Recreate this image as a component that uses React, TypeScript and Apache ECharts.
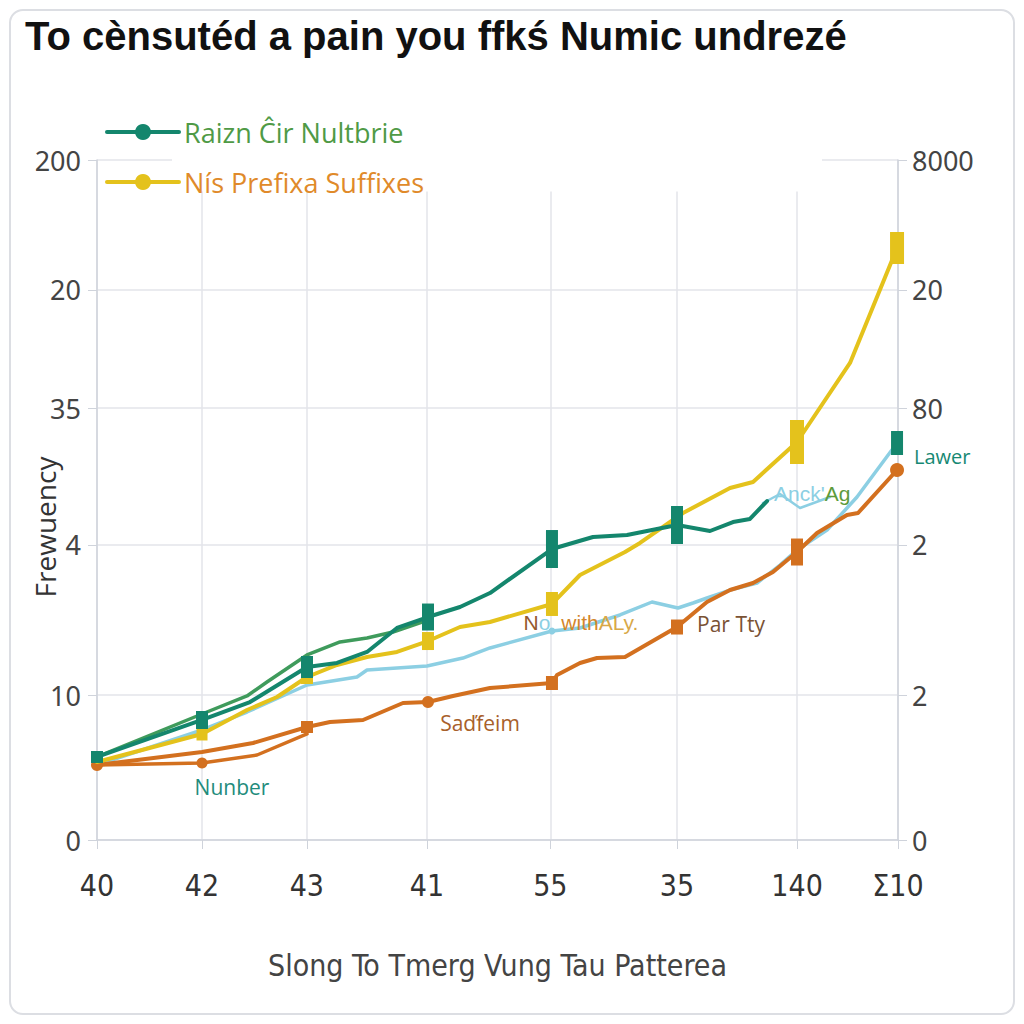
import React, { useEffect, useRef } from "react";
import * as echarts from "echarts";

// ---- tick layout (axis units) and tick labels ----
const xTickPos = [0, 13.1, 26.2, 41.2, 56.6, 72.4, 87.4, 100];
const xTickLabels = ["40", "42", "43", "41", "55", "35", "140", "Σ10"];
const yTickPos = [0, 21.3, 43.4, 63.5, 80.9, 100];
const yLeftLabels = ["0", "10", "4", "35", "20", "200"];
const yRightLabels = ["0", "2", "2", "80", "20", "8000"];

// ---- series values [x, y] in axis units ----
const tealValues = [
  [0, 12.21], [13.11, 17.65], [19.1, 20.29], [26.22, 25.44], [29.96, 26.03], [33.71, 27.65],
  [37.45, 31.18], [41.32, 32.79], [45.32, 34.26], [49.06, 36.32], [56.8, 42.79], [61.92, 44.56],
  [66.17, 44.85], [72.41, 46.32], [76.53, 45.44], [79.4, 46.76], [81.52, 47.21], [83.65, 49.85],
];
const yellowValues = [
  [0, 11.47], [13.11, 15.59], [18.73, 19.12], [22.47, 21.03], [26.22, 23.97], [29.96, 25.74],
  [33.71, 26.91], [37.45, 27.65], [41.32, 29.26], [45.32, 31.32], [49.06, 32.06], [56.8, 34.71],
  [60.3, 38.97], [65.92, 42.35], [67.79, 43.68], [73.16, 48.09], [79.03, 51.76], [81.9, 52.65],
  [87.39, 58.53], [94.01, 70.15], [99.88, 87.06],
];
const greenValues = [
  [0, 12.21], [13.11, 18.53], [18.73, 21.18], [21.22, 23.24], [26.22, 27.21], [30.34, 29.12],
  [33.71, 29.71], [36.95, 30.59], [41.32, 32.35],
];
const blueValues = [
  [0, 11.03], [13.11, 16.18], [18.73, 18.82], [26.22, 22.79], [32.46, 23.97], [33.71, 25.0],
  [41.2, 25.59], [45.69, 26.76], [49.06, 28.24], [56.8, 30.74], [60.3, 31.18], [65.29, 33.09],
  [69.29, 35.0], [72.53, 34.12], [74.41, 34.85], [76.15, 35.59], [79.03, 36.76], [82.4, 37.79],
  [85.27, 40.44], [87.39, 42.65], [91.14, 45.59], [94.88, 50.44], [99.88, 58.38],
];
const blueWaveValues = [[83.14, 49.56], [85.27, 50.88], [87.77, 48.82], [91.51, 50.44]];
const orangeValues = [
  [0, 11.03], [13.11, 12.94], [19.48, 14.26], [26.22, 16.62], [29.09, 17.35], [33.21, 17.65],
  [38.2, 20.15], [41.32, 20.29], [44.44, 21.18], [49.06, 22.35], [56.8, 23.09], [57.43, 24.26],
  [60.3, 26.03], [62.42, 26.76], [65.92, 26.91], [72.41, 31.32], [76.15, 35.0], [79.03, 36.76],
  [81.9, 37.79], [84.39, 39.41], [87.39, 42.35], [89.89, 45.15], [93.63, 47.79], [95.01, 48.09],
  [99.88, 54.41],
];
const orangeLowValues = [[0, 11.03], [13.11, 11.32], [19.98, 12.5], [26.22, 15.59]];

const seriesNames = ["Raizn Ĉir Nultbrie", "Nís Prefixa Suffixes"];

// ---- styles ----
const C = {
  teal: "#14866d",
  yellow: "#e4c21c",
  green: "#3f9b5c",
  blue: "#8ccfe3",
  orange: "#d3701f",
};

type Mark = { symbol: string; size: number | number[]; color?: string };
const tealMarks: Record<number, Mark> = {
  0: { symbol: "rect", size: [12, 12] },
  1: { symbol: "rect", size: [12, 18] },
  3: { symbol: "rect", size: [12, 22] },
  7: { symbol: "rect", size: [12, 27] },
  10: { symbol: "rect", size: [12, 38] },
  13: { symbol: "rect", size: [12, 38] },
};
const yellowMarks: Record<number, Mark> = {
  1: { symbol: "rect", size: [11, 13] },
  4: { symbol: "rect", size: [12, 14] },
  8: { symbol: "rect", size: [12, 18] },
  11: { symbol: "rect", size: [12, 24] },
  18: { symbol: "rect", size: [14, 44] },
  20: { symbol: "rect", size: [14, 32] },
};
const blueMarks: Record<number, Mark> = {
  9: { symbol: "circle", size: 7 },
  22: { symbol: "rect", size: [12, 24], color: C.teal },
};
const orangeMarks: Record<number, Mark> = {
  0: { symbol: "circle", size: 12 },
  3: { symbol: "rect", size: [12, 12] },
  7: { symbol: "circle", size: 12 },
  10: { symbol: "rect", size: [12, 14] },
  15: { symbol: "rect", size: [12, 15] },
  20: { symbol: "rect", size: [12, 27] },
  24: { symbol: "circle", size: 14 },
};
const orangeLowMarks: Record<number, Mark> = { 1: { symbol: "circle", size: 11 } };

function build(values: number[][], marks: Record<number, Mark>) {
  return values.map((v, i) => {
    const m = marks[i];
    if (!m) return { value: v, symbol: "none" };
    return {
      value: v,
      symbol: m.symbol,
      symbolSize: m.size,
      itemStyle: m.color ? { color: m.color } : undefined,
    };
  });
}

function lineSeries(name: string, values: number[][], marks: Record<number, Mark>, color: string, width: number, z: number) {
  return {
    name,
    type: "line",
    data: build(values, marks),
    symbol: "circle",
    showSymbol: true,
    color,
    lineStyle: { color, width, cap: "round", join: "round" },
    itemStyle: { color },
    z,
    silent: true,
  };
}

const pick = (pos: number[], labels: string[]) => (v: number) => {
  let best = 0;
  for (let i = 0; i < pos.length; i++) if (Math.abs(pos[i] - v) < Math.abs(pos[best] - v)) best = i;
  return labels[best];
};

const gridColor = "#e3e5ea";
const axisColor = "#cfd3db";
const narrow = "'Liberation Sans Narrow', 'DejaVu Sans Condensed', sans-serif";
const sans = "'Open Sans', 'Noto Sans', sans-serif";

export default function App() {
  const ref = useRef<HTMLDivElement>(null);
  useEffect(() => {
    if (!ref.current) return;
    const chart = echarts.init(ref.current, undefined, { renderer: "svg" });
    chart.setOption({
      animation: false,
      title: {
        text: "To cènsutéd a pain you ffkś Numic undrezé",
        left: 20,
        top: 11,
        textStyle: { fontSize: 40, fontWeight: "bold", color: "#111", fontFamily: "'Liberation Sans', Arial, sans-serif" },
      },
      legend: {
        orient: "vertical",
        left: 100,
        top: 112,
        itemWidth: 72,
        itemHeight: 20,
        itemGap: 20,
        lineStyle: { width: 4 },
        data: [
          { name: seriesNames[0], textStyle: { color: "#4f9a46" } },
          { name: seriesNames[1], textStyle: { color: "#e08a2a" } },
        ],
        textStyle: { fontSize: 27, lineHeight: 30, fontFamily: sans },
      },
      grid: { left: 97, right: 126, top: 160, bottom: 184, containLabel: false, outerBoundsMode: "none" },
      xAxis: {
        type: "value",
        min: 0,
        max: 100,
        name: "Slong To Tmerg Vung Tau Patterea",
        nameLocation: "middle",
        nameGap: 110,
        nameTextStyle: { fontSize: 30, color: "#444", fontFamily: narrow },
        axisLine: { show: true, lineStyle: { color: axisColor, width: 1.5 } },
        axisTick: { show: true, length: 9, customValues: xTickPos, lineStyle: { color: axisColor } },
        axisLabel: {
          customValues: xTickPos,
          formatter: pick(xTickPos, xTickLabels),
          fontSize: 30,
          color: "#333",
          margin: 30,
          fontFamily: narrow,
        },
        splitLine: { show: true, lineStyle: { color: gridColor, width: 1.5 } },
      },
      yAxis: [
        {
          type: "value",
          min: 0,
          max: 100,
          position: "left",
          axisLine: { show: true, lineStyle: { color: axisColor, width: 1.5 } },
          axisTick: { show: true, length: 9, customValues: yTickPos, lineStyle: { color: axisColor } },
          axisLabel: {
            customValues: yTickPos,
            formatter: pick(yTickPos, yLeftLabels),
            fontSize: 27,
            color: "#444",
            margin: 16,
            fontFamily: "'Noto Sans', 'Open Sans', sans-serif",
          },
          splitLine: { show: true, lineStyle: { color: gridColor, width: 1.5 } },
        },
        {
          type: "value",
          min: 0,
          max: 100,
          position: "right",
          axisLine: { show: true, lineStyle: { color: axisColor, width: 1.5 } },
          axisTick: { show: true, length: 9, customValues: yTickPos, lineStyle: { color: axisColor } },
          axisLabel: {
            customValues: yTickPos,
            formatter: pick(yTickPos, yRightLabels),
            fontSize: 27,
            color: "#444",
            margin: 14,
            fontFamily: "'Noto Sans', 'Open Sans', sans-serif",
          },
          splitLine: { show: false },
        },
      ],
      series: [
        lineSeries("blue", blueValues, blueMarks, C.blue, 3.5, 2),
        lineSeries("blueWave", blueWaveValues, {}, C.blue, 2.5, 2),
        lineSeries("green", greenValues, {}, C.green, 3.5, 3),
        lineSeries("orangeLow", orangeLowValues, orangeLowMarks, C.orange, 3.5, 3),
        lineSeries("orange", orangeValues, orangeMarks, C.orange, 4, 4),
        lineSeries(seriesNames[1], yellowValues, yellowMarks, C.yellow, 4, 5),
        lineSeries(seriesNames[0], tealValues, tealMarks, C.teal, 4, 6),
      ],
      graphic: [
        { type: "rect", z: 1, silent: true, shape: { x: 99, y: 161.5, width: 797, height: 30 }, style: { fill: "#fff" } },
        { type: "rect", z: 1, silent: true, shape: { x: 172, y: 157, width: 650, height: 6 }, style: { fill: "#fff" } },
        { type: "text", z: 50, x: 45, y: 527, rotation: Math.PI / 2, style: { text: "Frewuency", fill: "#333", fontSize: 28, align: "center", verticalAlign: "middle", fontFamily: sans } },
        { type: "text", z: 50, x: 232, y: 787, style: { text: "Nunber", fill: "#1f8c7c", fontSize: 21, align: "center", verticalAlign: "middle", fontFamily: sans } },
        { type: "text", z: 50, x: 480, y: 723, style: { text: "Saďfeim", fill: "#a8602b", fontSize: 21, align: "center", verticalAlign: "middle", fontFamily: sans } },
        {
          type: "text", z: 50, x: 581, y: 622,
          style: {
            text: "{n|N}{o|o}  {w|with}{a|ALy.}",
            align: "center", verticalAlign: "middle", fontSize: 21, fontFamily: sans,
            rich: {
              n: { fill: "#96592c", fontSize: 21 },
              o: { fill: C.blue, fontSize: 21 },
              w: { fill: "#d3862b", fontSize: 21 },
              a: { fill: "#d8a848", fontSize: 21 },
            },
          },
        },
        { type: "text", z: 50, x: 731, y: 624, style: { text: "Par Tty", fill: "#7a5234", fontSize: 21, align: "center", verticalAlign: "middle", fontFamily: sans } },
        {
          type: "text", z: 50, x: 774, y: 493,
          style: {
            text: "{b|Anck'}{g|Ag}",
            align: "left", verticalAlign: "middle", fontSize: 21, fontFamily: sans,
            rich: { b: { fill: C.blue, fontSize: 21 }, g: { fill: "#5d9b3c", fontSize: 21 } },
          },
        },
        { type: "text", z: 50, x: 914, y: 456, style: { text: "Lawer", fill: "#168873", fontSize: 20, align: "left", verticalAlign: "middle", fontFamily: sans } },
      ],
    });
    return () => chart.dispose();
  }, []);

  return (
    <div style={{ position: "fixed", left: 0, top: 0, width: 1024, height: 1024, background: "#fff" }}>
      <div
        style={{
          position: "absolute",
          left: 9,
          top: 9,
          width: 1002,
          height: 1002,
          border: "2px solid #dcdee3",
          borderRadius: 14,
          boxSizing: "content-box",
        }}
      />
      <div ref={ref} style={{ position: "absolute", left: 0, top: 0, width: 1024, height: 1024 }} />
    </div>
  );
}
